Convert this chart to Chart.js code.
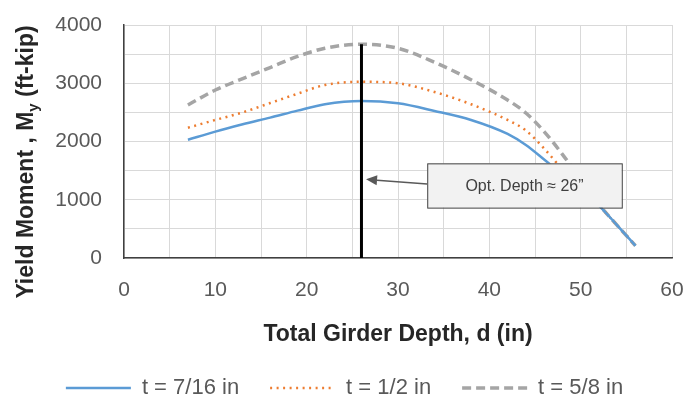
<!DOCTYPE html>
<html lang="en">
<head>
<meta charset="UTF-8">
<title>Yield Moment vs Girder Depth</title>
<script src="https://cdn.jsdelivr.net/npm/chart.js"></script>
<style>
    body { margin: 0; background: #ffffff; }
    .chart-box { width: 689px; height: 409px; }
</style>
</head>
<body>
<div class="chart-box"><canvas id="momentChart"></canvas></div>
<script>
// girder depth d (in) and yield moment My (ft-kip) for each web thickness
const depth = [7, 10, 13, 16, 19, 22, 26, 30, 34, 38, 42, 44, 46, 48, 50, 52, 54, 56];
const tSevenSixteenths = [2030, 2170, 2295, 2410, 2530, 2640, 2695, 2655, 2525, 2370, 2130, 1940, 1690, 1430, 1160, 900, 560, 210];
const tOneHalf = [2237, 2370, 2500, 2660, 2820, 2970, 3025, 3000, 2850, 2640, 2370, 2190, 1880, 1520, 1200, 900, 560, 210];
const tFiveEighths = [2627, 2884, 3080, 3270, 3460, 3600, 3670, 3600, 3360, 3060, 2712, 2490, 2170, 1780, 1350, 920, 560, 210];
const seriesLabels = ['t = 7/16 in', 't = 1/2 in', 't = 5/8 in'];

// optimum depth marker
const optDepthX = [26, 26];
const optDepthY = [0, 3670];

const xTicks = [0, 10, 20, 30, 40, 50, 60];
const yTicks = [0, 1000, 2000, 3000, 4000];

Chart.defaults.font.family = "'Liberation Sans', Arial, sans-serif";

function toPoints(xs, ys) {
    return xs.map((x, i) => ({ x: x, y: ys[i] }));
}

// callout box + arrow, placed in data units
const calloutPlugin = {
    id: 'callout',
    afterDatasetsDraw(chart, args, opts) {
        const { ctx, scales: { x, y } } = chart;
        const left = x.getPixelForValue(opts.box[0]);
        const right = x.getPixelForValue(opts.box[1]);
        const top = y.getPixelForValue(opts.box[2]);
        const bottom = y.getPixelForValue(opts.box[3]);
        const tipX = x.getPixelForValue(opts.tip[0]);
        const tipY = y.getPixelForValue(opts.tip[1]);
        const tailY = y.getPixelForValue(opts.tailY);

        ctx.save();
        // arrow
        const ang = Math.atan2(tipY - tailY, tipX - left);
        const headLen = 11, headW = 5;
        const baseX = tipX - headLen * Math.cos(ang);
        const baseY = tipY - headLen * Math.sin(ang);
        ctx.strokeStyle = '#595959';
        ctx.fillStyle = '#595959';
        ctx.lineWidth = 1.5;
        ctx.beginPath();
        ctx.moveTo(left, tailY);
        ctx.lineTo(baseX, baseY);
        ctx.stroke();
        ctx.beginPath();
        ctx.moveTo(tipX, tipY);
        ctx.lineTo(baseX + headW * Math.sin(ang), baseY - headW * Math.cos(ang));
        ctx.lineTo(baseX - headW * Math.sin(ang), baseY + headW * Math.cos(ang));
        ctx.closePath();
        ctx.fill();

        // box
        ctx.fillStyle = '#f2f2f2';
        ctx.fillRect(left, top, right - left, bottom - top);
        ctx.strokeStyle = '#404040';
        ctx.lineWidth = 1;
        ctx.strokeRect(left + 0.5, top + 0.5, right - left, bottom - top);

        ctx.fillStyle = '#404040';
        ctx.font = "16px 'Liberation Sans', Arial, sans-serif";
        ctx.textAlign = 'center';
        ctx.textBaseline = 'middle';
        ctx.fillText(opts.text, (left + right) / 2, (top + bottom) / 2 + 1);
        ctx.restore();
    }
};

// rotated y title with subscript
const yTitlePlugin = {
    id: 'yTitle',
    afterDraw(chart, args, opts) {
        const { ctx } = chart;
        const mainFont = `bold ${opts.size}px 'Liberation Sans', Arial, sans-serif`;
        const subFont = `bold ${Math.round(opts.size * 0.65)}px 'Liberation Sans', Arial, sans-serif`;
        ctx.save();
        ctx.translate(opts.x, opts.y);
        ctx.rotate(-Math.PI / 2);
        ctx.fillStyle = '#262626';
        ctx.textBaseline = 'middle';
        ctx.textAlign = 'left';
        ctx.font = mainFont;
        const w1 = ctx.measureText(opts.before).width;
        const w3 = ctx.measureText(opts.after).width;
        ctx.font = subFont;
        const w2 = ctx.measureText(opts.sub).width;
        let cx = -(w1 + w2 + w3) / 2;
        ctx.font = mainFont;
        ctx.fillText(opts.before, cx, 0);
        cx += w1;
        ctx.font = subFont;
        ctx.fillText(opts.sub, cx, opts.size * 0.3);
        cx += w2;
        ctx.font = mainFont;
        ctx.fillText(opts.after, cx, 0);
        ctx.restore();
    }
};

// legend swatches keep the dataset dash pattern
function legendLabels(chart) {
    const items = Chart.defaults.plugins.legend.labels.generateLabels(chart);
    items.forEach(item => {
        const ds = chart.data.datasets[item.datasetIndex];
        item.lineDash = ds.borderDash || [];
        item.lineWidth = ds.borderWidth;
        item.strokeStyle = ds.borderColor;
    });
    return items;
}

const ctx = document.getElementById('momentChart').getContext('2d');
new Chart(ctx, {
    type: 'line',
    data: {
        datasets: [
            { label: seriesLabels[0], data: toPoints(depth, tSevenSixteenths), borderColor: '#5b9bd5', borderWidth: 2.5, order: 1 },
            { label: seriesLabels[1], data: toPoints(depth, tOneHalf), borderColor: '#ed7d31', borderWidth: 2.5, borderDash: [2, 4.5], order: 1 },
            { label: seriesLabels[2], data: toPoints(depth, tFiveEighths), borderColor: '#a5a5a5', borderWidth: 3.5, borderDash: [9, 5], order: 1 },
            { label: 'opt', data: toPoints(optDepthX, optDepthY), borderColor: '#000000', borderWidth: 3, order: 0, cubicInterpolationMode: 'default', tension: 0 }
        ]
    },
    options: {
        responsive: true,
        maintainAspectRatio: false,
        animation: false,
        events: [],
        elements: {
            point: { radius: 0 },
            line: { cubicInterpolationMode: 'monotone', fill: false }
        },
        layout: { padding: 0 },
        scales: {
            x: {
                type: 'linear',
                min: 0,
                max: 60,
                grid: { color: '#d9d9d9', drawTicks: false },
                border: { color: '#404040', width: 1.5 },
                ticks: {
                    stepSize: 5, autoSkip: false, maxRotation: 0, padding: 22,
                    color: '#595959', font: { size: 21, lineHeight: 1 },
                    callback: v => xTicks.includes(v) ? v : ''
                },
                title: {
                    display: true, text: 'Total Girder Depth, d (in)', color: '#262626',
                    font: { size: 23, weight: 'bold', lineHeight: 1 }, padding: { top: 0, bottom: 0 }
                },
                afterFit(scale) { scale.paddingLeft = 0; scale.paddingRight = 17; }
            },
            y: {
                min: 0,
                max: 4000,
                grid: { color: '#d9d9d9', drawTicks: false },
                border: { color: '#404040', width: 1.5 },
                ticks: {
                    stepSize: 500, padding: 22, color: '#595959', font: { size: 21 },
                    callback: v => yTicks.includes(v) ? v : ''
                },
                afterFit(scale) { scale.width = 124; scale.paddingTop = 25; scale.paddingBottom = 0; }
            }
        },
        plugins: {
            legend: {
                position: 'bottom',
                labels: {
                    usePointStyle: true, pointStyle: 'line', pointStyleWidth: 65, padding: 31,
                    color: '#595959', font: { size: 22 },
                    generateLabels: legendLabels,
                    filter: item => item.datasetIndex < 3
                }
            },
            tooltip: { enabled: false },
            callout: { box: [33.2, 54.5, 1625, 865], tip: [26.5, 1350], tailY: 1270, text: 'Opt. Depth ≈ 26”' },
            yTitle: { x: 27, y: 162, size: 23, before: 'Yield Moment , M', sub: 'y', after: ' (ft-kip)' }
        }
    },
    plugins: [calloutPlugin, yTitlePlugin]
});
</script>
</body>
</html>
